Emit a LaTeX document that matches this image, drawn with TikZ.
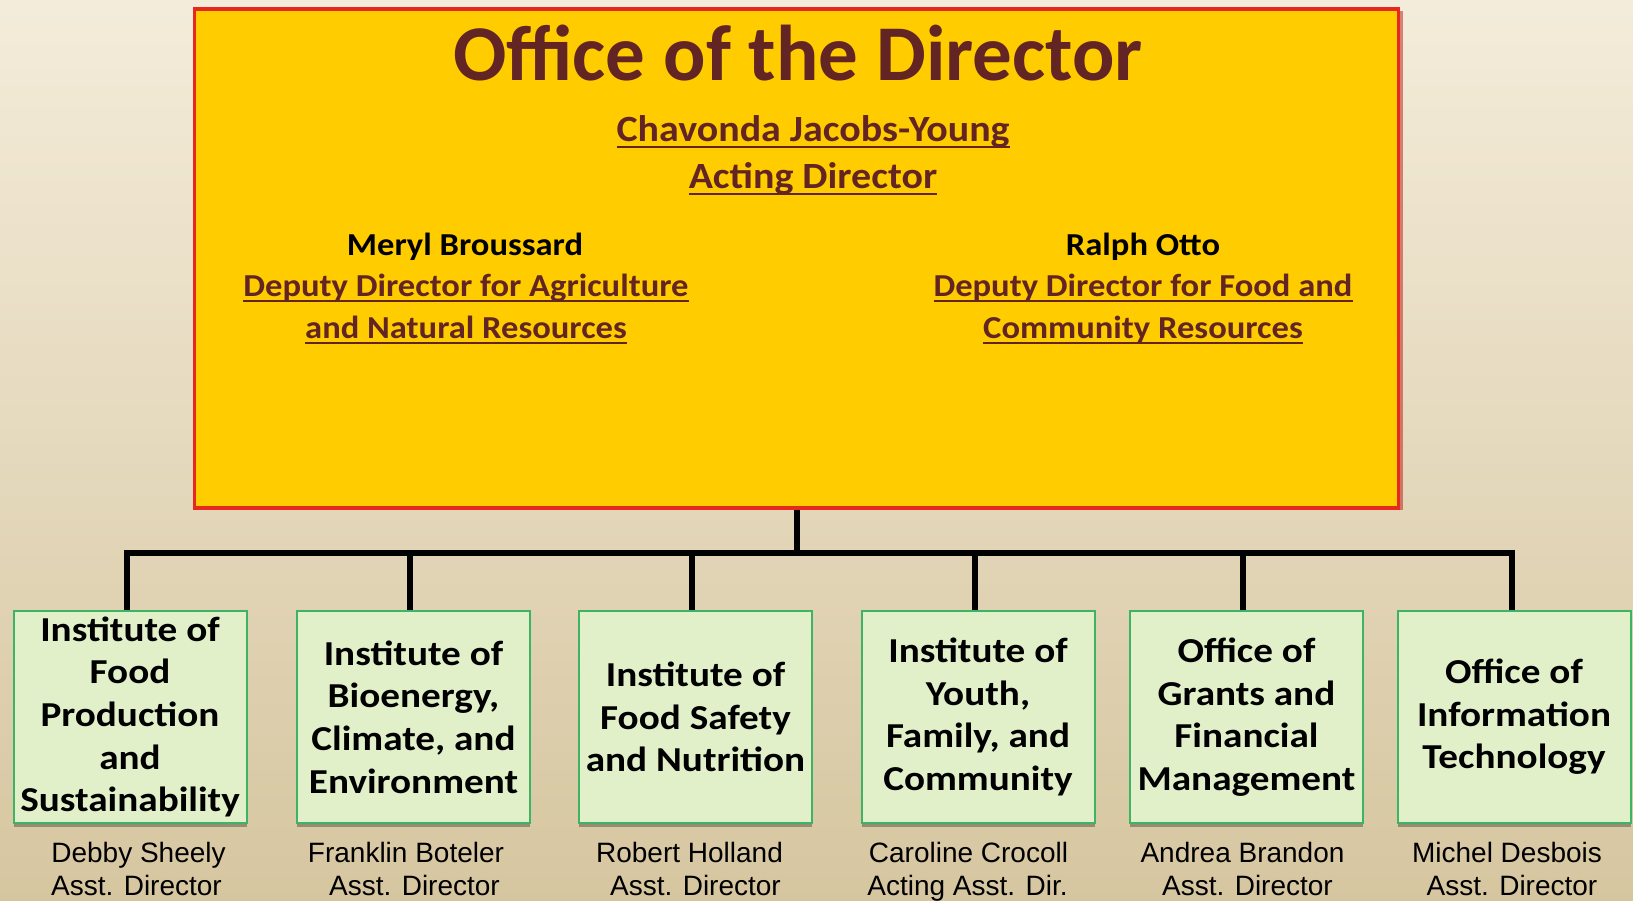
\documentclass[tikz,border=0pt]{standalone}
\usepackage{fontspec}
\setmainfont{Carlito}
\newfontfamily\arialf{Liberation Sans}
\newfontfamily\boxf[FakeStretch=1.12]{Carlito}
\newfontfamily\subf[FakeStretch=1.08]{Carlito}
\usetikzlibrary{shadows}
\definecolor{bgtop}{RGB}{244,236,218}
\definecolor{bgbot}{RGB}{214,198,160}
\definecolor{dirfill}{RGB}{255,204,0}
\definecolor{dirborder}{RGB}{230,40,30}
\definecolor{brownt}{RGB}{99,37,35}
\definecolor{boxfill}{RGB}{226,240,202}
\definecolor{boxborder}{RGB}{60,180,100}
\newcommand\myul[1]{\setbox0\hbox{#1}\rlap{\rule[-0.2em]{\wd0}{0.07em}}\box0}
\tikzset{
  mainbox/.style={draw=dirborder, line width=3.5pt, fill=dirfill, minimum width=1204pt, minimum height=499pt,
    drop shadow={shadow xshift=4pt, shadow yshift=-2pt, fill=red!70!black, opacity=0.45}},
  unitbox/.style={draw=boxborder, line width=2pt, fill=boxfill, minimum width=233pt, minimum height=212pt,
    align=center, inner sep=0pt, font=\boxf\bfseries\fontsize{35}{42.6}\selectfont,
    drop shadow={shadow xshift=0pt, shadow yshift=-4pt, fill=black, opacity=0.3}},
  titletext/.style={anchor=base, text=brownt, font=\bfseries\fontsize{79}{90}\selectfont},
  leadtext/.style={anchor=base, text=brownt, font=\subf\bfseries\fontsize{37}{44}\selectfont},
  depname/.style={anchor=base, text=black, font=\subf\bfseries\fontsize{32}{40}\selectfont},
  deprole/.style={anchor=base, text=brownt, font=\subf\bfseries\fontsize{32}{40}\selectfont},
  persontext/.style={anchor=base, text=black, font=\arialf\fontsize{28}{33}\selectfont, inner sep=0pt},
  conn/.style={draw=black, line width=6pt, line join=miter}
}
\begin{document}
\begin{tikzpicture}[x=1pt,y=-1pt]
\useasboundingbox (0,0) rectangle (1633,900);
\shade[top color=bgtop, bottom color=bgbot] (0,0) rectangle (1633,900);

% Office of the Director
\node[mainbox] (dir) at (796.5,258.5) {};
\node[titletext] (title) at (798,80) {Office of the Director};
\node[leadtext] (lead1) at (813,141) {\myul{Chavonda Jacobs-Young}};
\node[leadtext] (lead2) at (813,188) {\myul{Acting Director}};
\node[depname] (dep1n) at (465,255) {Meryl Broussard};
\node[deprole] (dep1a) at (466,296) {\myul{Deputy Director for Agriculture}};
\node[deprole] (dep1b) at (466,338) {\myul{and Natural Resources}};
\node[depname] (dep2n) at (1143,255) {Ralph Otto};
\node[deprole] (dep2a) at (1143,296) {\myul{Deputy Director for Food and}};
\node[deprole] (dep2b) at (1143,338) {\myul{Community Resources}};

% Units
\node[unitbox] (c1) at (130,717) {Institute of\\Food\\Production\\and\\Sustainability};
\node[unitbox] (c2) at (413.5,717) {Institute of\\Bioenergy,\\Climate, and\\Environment};
\node[unitbox] (c3) at (695.5,717) {Institute of\\Food Safety\\and Nutrition};
\node[unitbox] (c4) at (978,717) {Institute of\\Youth,\\Family, and\\Community};
\node[unitbox] (c5) at (1246.5,717) {Office of\\Grants and\\Financial\\Management};
\node[unitbox] (c6) at (1514,717) {Office of\\Information\\Technology};

% Connectors
\coordinate (bus) at (0,553);
\draw[conn] (dir.south) -- (dir.south |- bus);
\draw[conn] ([xshift=-3pt]c1.north) -- ([xshift=-3pt]c1.north |- bus) -- ([xshift=-2pt]c6.north |- bus) -- ([xshift=-2pt]c6.north);
\draw[conn] ([xshift=-4pt]c2.north) -- ([xshift=-4pt]c2.north |- bus);
\draw[conn] ([xshift=-4pt]c3.north) -- ([xshift=-4pt]c3.north |- bus);
\draw[conn] ([xshift=-3pt]c4.north) -- ([xshift=-3pt]c4.north |- bus);
\draw[conn] ([xshift=-4pt]c5.north) -- ([xshift=-4pt]c5.north |- bus);

% People
\node[persontext] (p1a) at (138.5,862) {Debby Sheely};
\node[persontext] (p1b) at (136.5,895) {Asst. Director};
\node[persontext] (p2a) at (406,862) {Franklin Boteler};
\node[persontext] (p2b) at (414.5,895) {Asst. Director};
\node[persontext] (p3a) at (689.5,862) {Robert Holland};
\node[persontext] (p3b) at (695.5,895) {Asst. Director};
\node[persontext] (p4a) at (968.5,862) {Caroline Crocoll};
\node[persontext] (p4b) at (967.5,895) {Acting Asst. Dir.};
\node[persontext] (p5a) at (1242.5,862) {Andrea Brandon};
\node[persontext] (p5b) at (1247.5,895) {Asst. Director};
\node[persontext] (p6a) at (1507,862) {Michel Desbois};
\node[persontext] (p6b) at (1512,895) {Asst. Director};
\end{tikzpicture}
\end{document}
